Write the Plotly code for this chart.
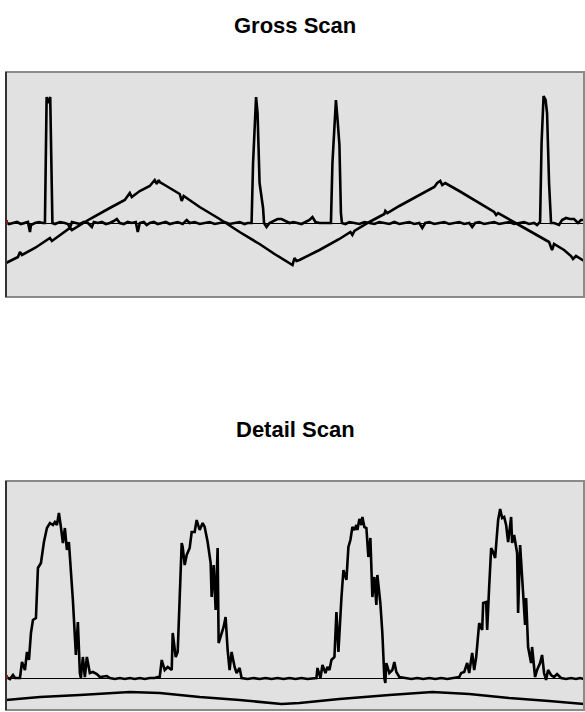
import plotly.graph_objects as go

# ---------------- Gross scan data ----------------
gross_x = [6, 9, 13, 17, 21, 25, 28, 30, 31, 35, 39, 43, 45, 46.7, 48.3, 50.3, 52.5,
           55, 60, 65, 68, 70, 72, 76, 80, 84, 88, 92, 94, 98, 102, 106, 110, 114, 117,
           120, 124, 128, 132, 136, 138, 140, 144, 147, 150, 154, 158, 162, 166, 170,
           174, 178, 183, 187, 190, 195, 200, 205, 210, 215, 220, 225, 230, 235, 240,
           245, 248, 252, 253.5, 256.5, 258, 260, 262, 263.5, 264.5, 266, 267, 270, 274,
           278, 282, 286, 290, 294, 298, 302, 306, 310, 313, 316, 320, 324, 331.5, 333,
           336.5, 338, 340, 341.5, 342.5, 346, 350, 355, 360, 365, 370, 375, 380, 385,
           390, 395, 400, 405, 410, 415, 420, 423, 426, 430, 435, 440, 445, 450, 455,
           460, 465, 470, 473, 476, 480, 485, 490, 495, 500, 505, 510, 515, 520, 525,
           530, 535, 538, 541, 542.5, 544.5, 546.5, 548, 550, 552, 555, 558, 560, 563,
           567, 571, 575, 579, 582, 585]
gross_y = [1, -1, 0, 1, -1, 0, 1, -9, -2, 0, 1, 0, 0, 126, 120, 126, 0,
           -1, 1, 0, -1, -5, 1, 0, -1, 1, 0, -4, 1, 0, 1, -1, 0, 2, 4,
           0, -1, 1, 0, 1, -9, 0, 1, -2, 0, 1, -1, 0, 1, -1,
           0, 1, -1, 3, 0, 1, -1, 0, 1, -1, 0, 1, -1, 0, 1,
           -1, 0, 0, 60, 126, 110, 40, 23, 15, 0, -3, -4, 0, 2,
           4, 4, 2, 0, 1, 0, -1, 1, 3, 6, 1, 0, 0, 0, 60,
           123, 105, 78, 10, 0, -1, 1, 0, -1, 1, 0, -1, 1, 0,
           -1, 1, -1, 0, 1, -1, 0, -5, 0, 1, -1, 0, 1, -1, 0,
           1, -1, 0, -4, 0, 1, -1, 0, 1, -1, 0, 1, -1, 0, 1,
           -1, 0, -2, 1, 80, 127, 123, 110, 40, 0, 0, -1, -2, 3,
           5, 4, 4, 0, 3, 3]

gross_ramp_x = [6, 12, 18, 20, 22, 35, 48, 50, 52, 65, 70, 72, 90, 110, 125, 130, 132,
                140, 150, 155, 157, 159, 160, 165, 175, 180, 182, 184, 200, 220, 240,
                260, 275, 285, 290, 293, 295, 297, 300, 320, 340, 351, 353, 355, 370,
                385, 386, 388, 400, 420, 435, 438, 441, 443, 446, 460, 480, 495, 497,
                499, 520, 540, 550, 553, 555, 565, 572, 574, 577, 585]
gross_ramp_y = [-40, -37, -34, -29, -32, -25, -17, -15, -18, -9, -5, -7, 4, 15, 23, 30, 26,
                32, 37, 43, 39, 43, 41, 38, 32, 29, 22, 27, 16, 4, -9,
                -21, -31, -37, -40, -42, -35, -38, -37, -27, -16, -9, -12, -8, 1,
                9, 12, 10, 17, 28, 36, 40, 42, 38, 40, 32, 20, 11, 8,
                10, -2, -13, -19, -27, -21, -27, -33, -36, -33, -38]

# ---------------- Detail scan data ----------------
detail_x = [6, 8, 10, 13, 15, 18, 20, 22, 25, 27, 29, 31, 33, 36, 38, 41, 44, 47, 50, 53,
            55, 57, 59, 61, 63, 65, 67, 69, 71, 73, 76, 78, 80, 81, 83, 85, 87, 90, 93,
            97, 100, 104, 107, 110, 115, 120, 125, 130, 135, 140, 145, 150, 155, 158,
            160, 162, 165, 168, 172, 173, 176, 178, 180, 182, 183, 185, 187, 190, 192,
            195, 197, 200, 203, 205, 208, 211, 212, 214, 216, 218, 219, 222, 224, 226,
            228, 230, 232, 235, 237, 240, 242, 248, 254, 260, 266, 272, 278, 284, 290,
            296, 302, 308, 314, 317, 318, 321, 323, 326, 328, 330, 332, 335, 337, 339,
            342, 344, 347, 349, 351, 353, 355, 357, 358, 360, 362, 363, 365, 367, 369,
            371, 373, 375, 377, 378, 381, 383, 385, 386, 387, 390, 393, 395, 397, 400,
            406, 412, 418, 424, 430, 436, 442, 448, 454, 460, 462, 465, 468, 470, 473,
            475, 477, 480, 483, 484, 487, 488, 490, 492, 494, 496, 498, 499, 501, 503,
            505, 507, 509, 512, 513, 515, 518, 519, 521, 523, 526, 527, 529, 532, 533,
            536, 538, 541, 543, 545, 547, 549, 552, 555, 558, 562, 567, 572, 577, 581, 585]
detail_y = [1, 0, -1, 3, 0, 0, 0, 16, 8, 26, 18, 45, 58, 60, 110, 115, 136, 150, 155, 153,
            156, 153, 165, 151, 135, 150, 128, 136, 108, 78, 23, 56, 5, 0, 21, 1, 21, 5, 6,
            4, 1, 2, 2, 0, -1, 0, -1, 0, -1, 0, -1, 0, 0, 1,
            1, 18, 8, 11, 8, 45, 21, 26, 78, 135, 131, 113, 123, 130, 146,
            146, 158, 148, 155, 151, 136, 115, 81, 113, 68, 130, 35, 45, 51, 61,
            28, 8, 26, 11, 5, 10, 0, -1, 0, -1, 0, -1, 0, -1, 0,
            -1, 0, -1, 0, 0, 10, 0, 13, 5, 11, 8, 18, 21, 66, 26,
            80, 108, 98, 131, 138, 151, 148, 153, 148, 159, 153, 161, 151, 150, 121,
            140, 81, 101, 73, 103, 75, 45, 0, -5, 15, 5, 8, 16, 6, 1,
            0, -1, 0, -1, 0, -1, 0, -1, 0, 1, 5, 6, 15, 5, 25,
            8, 21, 55, 48, 75, 76, 48, 91, 130, 126, 120, 146, 158, 169, 160,
            161, 153, 136, 161, 135, 143, 125, 65, 133, 98, 53, 80, 31, 15, 31,
            1, 8, 15, 23, 5, -2, 8, 3, 1, 4, 0, -1, 0, -1, 0, -1]

detail_ramp_x = [6, 40, 80, 130, 160, 200, 240, 282, 300, 340, 390, 433, 470, 510, 550, 585]
detail_ramp_y = [-22, -19, -17, -14, -15, -19, -22, -26, -25, -21, -17, -14, -16, -20, -23, -26]

titles = ["Gross Scan", "Detail Scan"]

LINE = dict(color="black", width=2.6)

fig = go.Figure()
fig.add_trace(go.Scatter(x=gross_ramp_x, y=gross_ramp_y, mode="lines", line=LINE,
                         xaxis="x", yaxis="y", showlegend=False))
fig.add_trace(go.Scatter(x=gross_x, y=gross_y, mode="lines", line=LINE,
                         xaxis="x", yaxis="y", showlegend=False))
fig.add_trace(go.Scatter(x=gross_x[:1], y=gross_y[:1], mode="markers",
                         marker=dict(color="#c00000", size=4, symbol="square"),
                         xaxis="x", yaxis="y", showlegend=False))
fig.add_trace(go.Scatter(x=detail_ramp_x, y=detail_ramp_y, mode="lines", line=LINE,
                         xaxis="x2", yaxis="y2", showlegend=False))
fig.add_trace(go.Scatter(x=detail_x, y=detail_y, mode="lines", line=LINE,
                         xaxis="x2", yaxis="y2", showlegend=False))
fig.add_trace(go.Scatter(x=detail_x[:1], y=detail_y[:1], mode="markers",
                         marker=dict(color="#c00000", size=4, symbol="square"),
                         xaxis="x2", yaxis="y2", showlegend=False))

H = 712
mt, mb = 72, 2
ph = H - mt - mb
top_dom = [(H - mb - 297) / ph, 1.0]
bot_dom = [0.0, (H - mb - 481) / ph]

ax_common = dict(showticklabels=False, ticks="", showgrid=False, showline=False,
                 fixedrange=True)
fig.update_layout(
    width=585, height=712,
    margin=dict(l=6, r=1, t=mt, b=mb, pad=0),
    paper_bgcolor="white", plot_bgcolor="#e1e1e1",
    xaxis=dict(range=[6, 585], domain=[0, 1], anchor="y", zeroline=False, **ax_common),
    yaxis=dict(range=[-74, 151], domain=top_dom, anchor="x", zeroline=True,
               zerolinecolor="black", zerolinewidth=1, **ax_common),
    xaxis2=dict(range=[6, 585], domain=[0, 1], anchor="y2", zeroline=False, **ax_common),
    yaxis2=dict(range=[-32, 197], domain=bot_dom, anchor="x2", zeroline=True,
                zerolinecolor="black", zerolinewidth=1, **ax_common),
)

shapes = []
for xr, yr in (("x domain", "y domain"), ("x2 domain", "y2 domain")):
    shapes.append(dict(type="rect", xref=xr, yref=yr, x0=0, x1=1, y0=0, y1=1,
                       line=dict(color="#8a8a8a", width=2), layer="above"))
    shapes.append(dict(type="line", xref=xr, yref=yr, x0=0, x1=0, y0=0, y1=1,
                       line=dict(color="#333333", width=2), layer="above"))
fig.update_layout(shapes=shapes)

for title, ypx in zip(titles, (25, 430)):
    fig.add_annotation(text="<b>" + title + "</b>", x=0.5, xref="paper",
                       y=(H - mb - ypx) / ph, yref="paper", yanchor="middle",
                       showarrow=False,
                       font=dict(family="Liberation Sans, Arial", size=22, color="black"))

fig.write_html("out.html",
               config={"displayModeBar": False},
               post_script="document.body.style.margin='0px';"
                           "document.body.style.overflow='hidden';")
